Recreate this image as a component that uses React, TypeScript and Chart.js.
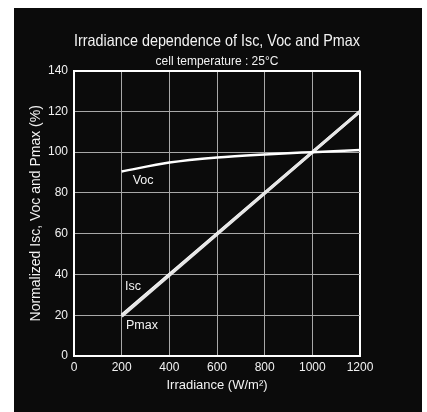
import React, { useEffect, useRef } from "react";
import { Chart, registerables } from "chart.js";

Chart.register(...registerables);

const FONT = '"Liberation Sans", Arial, sans-serif';

const xValues = [200, 400, 600, 800, 1000, 1200];
const vocValues = [90.5, 94.9, 97.4, 98.9, 100, 101];
const iscValues = [20, 40, 60, 80, 100, 120];
const pmaxValues = [19.5, 39.6, 59.7, 79.8, 99.9, 119.9];

const labelTexts = ["Voc", "Isc", "Pmax"];
const labelX = [290, 248, 285];
const labelY = [86, 34, 15];

const titleText = "Irradiance dependence of Isc, Voc and Pmax";
const subtitleText = "cell temperature : 25°C";
const xTitle = "Irradiance (W/m²)";
const yTitle = "Normalized Isc, Voc and Pmax (%)";

const TEXT = "#f2f2f2";
const GRID = "#a8a8a8";

const labelPlugin = {
  id: "seriesLabels",
  afterDatasetsDraw(chart: any) {
    const { ctx } = chart;
    const x = chart.scales.x;
    const y = chart.scales.y;
    ctx.save();
    ctx.font = `12.5px ${FONT}`;
    ctx.fillStyle = TEXT;
    ctx.textAlign = "center";
    ctx.textBaseline = "middle";
    labelTexts.forEach((t, i) => {
      ctx.fillText(t, x.getPixelForValue(labelX[i]), y.getPixelForValue(labelY[i]));
    });
    ctx.restore();
  },
};

export default function App() {
  const ref = useRef<HTMLCanvasElement | null>(null);

  useEffect(() => {
    if (!ref.current) return;
    const toPts = (vals: number[]) => xValues.map((x, i) => ({ x, y: vals[i] }));
    const chart = new Chart(ref.current, {
      type: "line",
      data: {
        datasets: [
          {
            label: "Voc",
            data: toPts(vocValues),
            borderColor: "#ffffff",
            borderWidth: 2.5,
            pointRadius: 0,
            cubicInterpolationMode: "monotone",
          },
          {
            label: "Pmax",
            data: toPts(pmaxValues),
            borderColor: "#e6e6e6",
            borderWidth: 3,
            pointRadius: 0,
          },
          {
            label: "Isc",
            data: toPts(iscValues),
            borderColor: "#ffffff",
            borderWidth: 3,
            pointRadius: 0,
          },
        ],
      },
      options: {
        animation: false,
        responsive: true,
        maintainAspectRatio: false,
        layout: { padding: { top: 0, right: 62, bottom: 0, left: 0 } },
        plugins: {
          legend: { display: false },
          tooltip: { enabled: false },
          title: {
            display: true,
            text: titleText,
            color: TEXT,
            fullSize: false,
            font: { size: 16.5, family: FONT, weight: "normal" },
            padding: { top: 23.4, bottom: 0 },
          },
          subtitle: {
            display: true,
            text: subtitleText,
            color: TEXT,
            fullSize: false,
            font: { size: 12, family: FONT, weight: "normal" },
            padding: { top: 3.0, bottom: 2.0 },
          },
        },
        scales: {
          x: {
            type: "linear",
            min: 0,
            max: 1200,
            afterFit: (s: any) => {
              s.height = 56;
            },
            ticks: {
              stepSize: 200,
              color: TEXT,
              padding: 4.5,
              maxRotation: 0,
              font: { size: 12, family: FONT },
              callback: (v: any) => String(v),
            },
            grid: {
              drawTicks: false,
              color: (c: any) => (c.tick && c.tick.value === 1200 ? "#ffffff" : GRID),
              lineWidth: (c: any) => (c.tick && c.tick.value === 1200 ? 2 : 1),
            },
            border: { color: "#ffffff", width: 2 },
            title: {
              display: true,
              text: xTitle,
              color: TEXT,
              font: { size: 13, family: FONT },
              padding: { top: 0, bottom: 18.4 },
            },
          },
          y: {
            type: "linear",
            min: 0,
            max: 140,
            afterFit: (s: any) => {
              s.width = 60;
            },
            ticks: {
              stepSize: 20,
              color: TEXT,
              padding: 6,
              font: { size: 12, family: FONT },
              callback: (v: any) => String(v),
            },
            grid: {
              drawTicks: false,
              color: (c: any) => (c.tick && c.tick.value === 140 ? "#ffffff" : GRID),
              lineWidth: (c: any) => (c.tick && c.tick.value === 140 ? 2 : 1),
            },
            border: { color: "#ffffff", width: 2 },
            title: {
              display: true,
              text: yTitle,
              color: TEXT,
              font: { size: 14, family: FONT },
              padding: { top: 14.1, bottom: 0 },
            },
          },
        },
      },
      plugins: [labelPlugin],
    } as any);
    return () => chart.destroy();
  }, []);

  return (
    <div
      style={{
        position: "fixed",
        left: 14,
        top: 8,
        width: 408,
        height: 404,
        background: "#0b0b0b",
      }}
    >
      <canvas ref={ref} />
    </div>
  );
}
